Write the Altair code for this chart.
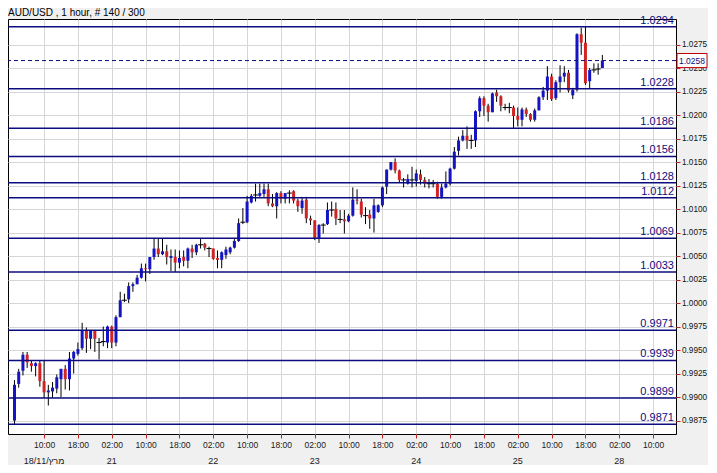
import altair as alt
import pandas as pd

title_text = ["AUD/USD , 1 hour, # 140 / 300"]

opens = [0.9875, 0.9914, 0.9928, 0.9945, 0.9936, 0.9933, 0.9936, 0.9917, 0.9905, 0.9906,
         0.9909, 0.9919, 0.9930, 0.9919, 0.9941, 0.9946, 0.9952, 0.9971, 0.9962, 0.9971,
         0.9958, 0.9959, 0.9958, 0.9975, 0.9958, 0.9985, 1.0003, 1.0004, 1.0018, 1.0020,
         1.0027, 1.0037, 1.0036, 1.0049, 1.0058, 1.0052, 1.0055, 1.0048, 1.0049, 1.0043,
         1.0049, 1.0045, 1.0058, 1.0054, 1.0062, 1.0063, 1.0058, 1.0058, 1.0048, 1.0046,
         1.0051, 1.0054, 1.0059, 1.0066, 1.0086, 1.0086, 1.0107, 1.0115, 1.0114, 1.0116,
         1.0121, 1.0106, 1.0103, 1.0117, 1.0111, 1.0117, 1.0119, 1.0109, 1.0101, 1.0110,
         1.0090, 1.0088, 1.0069, 1.0083, 1.0084, 1.0099, 1.0100, 1.0089, 1.0089, 1.0087,
         1.0093, 1.0110, 1.0108, 1.0093, 1.0094, 1.0090, 1.0097, 1.0104, 1.0124, 1.0142,
         1.0150, 1.0141, 1.0131, 1.0127, 1.0131, 1.0130, 1.0137, 1.0131, 1.0127, 1.0127,
         1.0127, 1.0113, 1.0123, 1.0127, 1.0143, 1.0162, 1.0173, 1.0178, 1.0173, 1.0173,
         1.0204, 1.0218, 1.0210, 1.0203, 1.0224, 1.0220, 1.0208, 1.0208, 1.0208, 1.0199,
         1.0195, 1.0206, 1.0201, 1.0195, 1.0205, 1.0219, 1.0226, 1.0241, 1.0218, 1.0235,
         1.0241, 1.0245, 1.0221, 1.0227, 1.0286, 1.0277, 1.0236, 1.0248, 1.0249, 1.0250]
highs = [0.9918, 0.9930, 0.9948, 0.9948, 0.9939, 0.9937, 0.9939, 0.9939, 0.9913, 0.9916,
         0.9924, 0.9930, 0.9934, 0.9948, 0.9949, 0.9958, 0.9979, 0.9974, 0.9971, 0.9971,
         0.9963, 0.9975, 0.9976, 0.9976, 0.9987, 1.0012, 1.0010, 1.0022, 1.0022, 1.0030,
         1.0042, 1.0042, 1.0049, 1.0069, 1.0069, 1.0069, 1.0062, 1.0057, 1.0057, 1.0056,
         1.0056, 1.0059, 1.0062, 1.0063, 1.0068, 1.0064, 1.0060, 1.0058, 1.0056, 1.0055,
         1.0060, 1.0060, 1.0068, 1.0090, 1.0101, 1.0114, 1.0116, 1.0127, 1.0127, 1.0127,
         1.0127, 1.0116, 1.0118, 1.0119, 1.0117, 1.0120, 1.0120, 1.0111, 1.0113, 1.0113,
         1.0093, 1.0088, 1.0084, 1.0085, 1.0107, 1.0108, 1.0107, 1.0099, 1.0099, 1.0095,
         1.0123, 1.0121, 1.0111, 1.0102, 1.0099, 1.0111, 1.0105, 1.0124, 1.0142, 1.0150,
         1.0154, 1.0142, 1.0133, 1.0137, 1.0145, 1.0142, 1.0142, 1.0134, 1.0132, 1.0131,
         1.0129, 1.0127, 1.0140, 1.0144, 1.0166, 1.0177, 1.0184, 1.0188, 1.0179, 1.0205,
         1.0220, 1.0220, 1.0212, 1.0224, 1.0227, 1.0221, 1.0212, 1.0213, 1.0210, 1.0208,
         1.0208, 1.0208, 1.0202, 1.0207, 1.0220, 1.0230, 1.0252, 1.0244, 1.0237, 1.0253,
         1.0252, 1.0248, 1.0229, 1.0287, 1.0293, 1.0294, 1.0250, 1.0255, 1.0255, 1.0264]
lows = [0.9871, 0.9910, 0.9923, 0.9931, 0.9927, 0.9922, 0.9911, 0.9899, 0.9891, 0.9899,
        0.9904, 0.9900, 0.9908, 0.9907, 0.9925, 0.9944, 0.9950, 0.9947, 0.9951, 0.9948,
        0.9940, 0.9954, 0.9952, 0.9952, 0.9954, 0.9985, 1.0001, 1.0000, 1.0012, 1.0020,
        1.0026, 1.0023, 1.0031, 1.0046, 1.0049, 1.0051, 1.0041, 1.0034, 1.0033, 1.0037,
        1.0039, 1.0037, 1.0048, 1.0051, 1.0058, 1.0056, 1.0049, 1.0046, 1.0037, 1.0037,
        1.0047, 1.0052, 1.0058, 1.0065, 1.0084, 1.0085, 1.0106, 1.0108, 1.0113, 1.0113,
        1.0103, 1.0102, 1.0090, 1.0106, 1.0106, 1.0106, 1.0106, 1.0097, 1.0095, 1.0085,
        1.0083, 1.0067, 1.0064, 1.0074, 1.0083, 1.0092, 1.0083, 1.0085, 1.0074, 1.0086,
        1.0092, 1.0105, 1.0091, 1.0084, 1.0079, 1.0075, 1.0096, 1.0102, 1.0116, 1.0141,
        1.0138, 1.0128, 1.0123, 1.0126, 1.0123, 1.0124, 1.0126, 1.0123, 1.0122, 1.0123,
        1.0111, 1.0111, 1.0122, 1.0125, 1.0142, 1.0157, 1.0172, 1.0164, 1.0164, 1.0166,
        1.0198, 1.0199, 1.0193, 1.0203, 1.0214, 1.0204, 1.0205, 1.0202, 1.0186, 1.0188,
        1.0188, 1.0198, 1.0193, 1.0193, 1.0205, 1.0216, 1.0216, 1.0215, 1.0216, 1.0224,
        1.0235, 1.0224, 1.0217, 1.0225, 1.0264, 1.0232, 1.0228, 1.0245, 1.0243, 1.0250]
closes = [0.9913, 0.9927, 0.9945, 0.9937, 0.9933, 0.9936, 0.9917, 0.9905, 0.9907, 0.9910,
          0.9921, 0.9930, 0.9919, 0.9941, 0.9948, 0.9951, 0.9971, 0.9962, 0.9971, 0.9962,
          0.9958, 0.9959, 0.9975, 0.9958, 0.9985, 1.0003, 1.0003, 1.0018, 1.0020, 1.0027,
          1.0037, 1.0036, 1.0049, 1.0058, 1.0052, 1.0055, 1.0049, 1.0050, 1.0043, 1.0048,
          1.0045, 1.0058, 1.0054, 1.0062, 1.0062, 1.0059, 1.0058, 1.0047, 1.0046, 1.0054,
          1.0057, 1.0059, 1.0066, 1.0085, 1.0086, 1.0108, 1.0114, 1.0115, 1.0117, 1.0121,
          1.0106, 1.0103, 1.0117, 1.0111, 1.0117, 1.0117, 1.0109, 1.0103, 1.0109, 1.0090,
          1.0088, 1.0069, 1.0083, 1.0083, 1.0099, 1.0099, 1.0090, 1.0089, 1.0087, 1.0093,
          1.0110, 1.0109, 1.0094, 1.0093, 1.0090, 1.0104, 1.0104, 1.0123, 1.0142, 1.0150,
          1.0141, 1.0131, 1.0131, 1.0132, 1.0131, 1.0138, 1.0131, 1.0127, 1.0127, 1.0127,
          1.0113, 1.0123, 1.0127, 1.0143, 1.0161, 1.0173, 1.0178, 1.0173, 1.0173, 1.0204,
          1.0218, 1.0210, 1.0203, 1.0223, 1.0220, 1.0210, 1.0208, 1.0208, 1.0199, 1.0195,
          1.0206, 1.0201, 1.0195, 1.0205, 1.0219, 1.0226, 1.0241, 1.0217, 1.0235, 1.0241,
          1.0245, 1.0226, 1.0227, 1.0286, 1.0277, 1.0234, 1.0248, 1.0248, 1.0249, 1.0258]

levels = [1.0294, 1.0228, 1.0186, 1.0156, 1.0128, 1.0112, 1.0069, 1.0033,
          0.9971, 0.9939, 0.9899, 0.9871]
level_labels = ["1.0294", "1.0228", "1.0186", "1.0156", "1.0128", "1.0112", "1.0069",
                "1.0033", "0.9971", "0.9939", "0.9899", "0.9871"]

last_price = [1.0258]
last_label = ["1.0258"]

y_ticks = [0.9875, 0.9900, 0.9925, 0.9950, 0.9975, 1.0000, 1.0025, 1.0050, 1.0075,
           1.0100, 1.0125, 1.0150, 1.0175, 1.0200, 1.0225, 1.0250, 1.0275]

x_tick_idx = [7, 15, 23, 31, 39, 47, 55, 63, 71, 79, 87, 95, 103, 111, 119, 127, 135, 143, 151]
x_tick_labels = ["10:00", "18:00", "02:00", "10:00", "18:00", "02:00", "10:00", "18:00",
                 "02:00", "10:00", "18:00", "02:00", "10:00", "18:00", "02:00", "10:00",
                 "18:00", "02:00", "10:00"]

date_idx = [7, 23, 47, 71, 95, 119, 143]
date_labels = ["18/11/מרץ", "21", "22", "23", "24", "25", "28"]

# ---------------- tables ----------------
n = len(opens)
candles = pd.DataFrame({
    "idx": list(range(n)),
    "open": opens, "high": highs, "low": lows, "close": closes,
})
candles["dir"] = ["up" if c > o else ("down" if c < o else "doji")
                  for o, c in zip(opens, closes)]

levels_df = pd.DataFrame({"level": levels, "label": level_labels})
last_df = pd.DataFrame({"price": last_price, "label": last_label})
dates_df = pd.DataFrame({"idx": date_idx, "label": date_labels})
title_df = pd.DataFrame({"label": title_text})

FONT = "Liberation Sans"
NAVY = "#0c0c80"
BLUE = "#1414c4"
RED = "#d02424"
TICKRED = "#c81e1e"
GRID = "#d6d6d6"

W, H = 668, 415
x_scale = alt.Scale(domain=[-0.35, 155.23], nice=False, zero=False)
y_scale = alt.Scale(domain=[0.98607, 1.03022], nice=False, zero=False)

label_map = "{" + ",".join(f"'{k}':'{v}'" for k, v in zip(x_tick_idx, x_tick_labels)) + "}"

x_axis = alt.Axis(values=x_tick_idx, labelExpr=f"{label_map}[datum.value]", grid=True,
                  gridColor=GRID, domain=False, ticks=True, tickColor=TICKRED, tickSize=4,
                  labelFont=FONT, labelFontSize=8.5, labelColor="#1a1a1a", labelPadding=2,
                  labelFlush=False, labelOverlap=False, title=None)
y_axis = alt.Axis(values=y_ticks, orient="right", format=".4f", grid=True, gridColor=GRID,
                  domain=False, ticks=True, tickColor=TICKRED, tickSize=4, labelFont=FONT,
                  labelFontSize=8.2, labelColor="#111111", labelPadding=1.5, title=None)


def X(field):
    return alt.X(f"{field}:Q", scale=x_scale, axis=x_axis)


def Y(field):
    return alt.Y(f"{field}:Q", scale=y_scale, axis=y_axis)


base = alt.Chart(candles)

wicks = base.mark_rule(color="#000000", strokeWidth=1).encode(
    x=X("idx"), y=Y("low"), y2="high:Q")

bodies = base.transform_filter("datum.dir != 'doji'").mark_bar(size=3).encode(
    x=X("idx"), y=Y("open"), y2="close:Q",
    color=alt.Color("dir:N", scale=alt.Scale(domain=["up", "down"], range=[BLUE, RED]),
                    legend=None))

dojis = base.transform_filter("datum.dir == 'doji'").mark_tick(
    orient="horizontal", size=5, thickness=1, color="#000000", opacity=1).encode(
    x=X("idx"), y=Y("open"))

level_rules = alt.Chart(levels_df).mark_rule(color=NAVY, strokeWidth=1.5).encode(
    y=Y("level"))

level_text = alt.Chart(levels_df).mark_text(
    align="right", baseline="bottom", dy=-1, font=FONT, fontSize=11, color=NAVY).encode(
    x=alt.value(W - 2), y=Y("level"), text="label:N")

last_rule = alt.Chart(last_df).mark_rule(color=NAVY, strokeWidth=1, strokeDash=[4, 3]).encode(
    y=Y("price"))

box_shape = "M-1,-0.47H1V0.47H-1Z"
last_box = alt.Chart(last_df).mark_point(
    shape=box_shape, size=900, filled=True, fill="#ffffff", stroke="#c00000",
    strokeWidth=1, opacity=1).encode(
    x=alt.value(W + 16), y=Y("price"))

last_text = alt.Chart(last_df).mark_text(
    font=FONT, fontSize=8.5, color=NAVY, align="center", baseline="middle").encode(
    x=alt.value(W + 16), y=Y("price"), text="label:N")

date_text = alt.Chart(dates_df).mark_text(
    font=FONT, fontSize=9, color="#1a1a1a", align="center", baseline="alphabetic").encode(
    x=X("idx"), y=alt.value(H + 30), text="label:N")

title_mark = alt.Chart(title_df).mark_text(
    font=FONT, fontSize=10, color="#000000", align="left", baseline="alphabetic").encode(
    x=alt.value(0), y=alt.value(-3), text="label:N")

chart = alt.layer(
    wicks, bodies, dojis, level_rules, level_text, last_rule, last_box, last_text,
    date_text, title_mark
).properties(
    width=W, height=H,
    autosize=alt.AutoSizeParams(type="none"),
    padding={"left": 0, "top": 11, "right": 32, "bottom": 31},
    background="#f0f0f0",
).configure_view(
    stroke="#000000", strokeWidth=1, fill="#ffffff"
)

chart.save("out.html", embed_options={"renderer": "svg", "actions": False})
